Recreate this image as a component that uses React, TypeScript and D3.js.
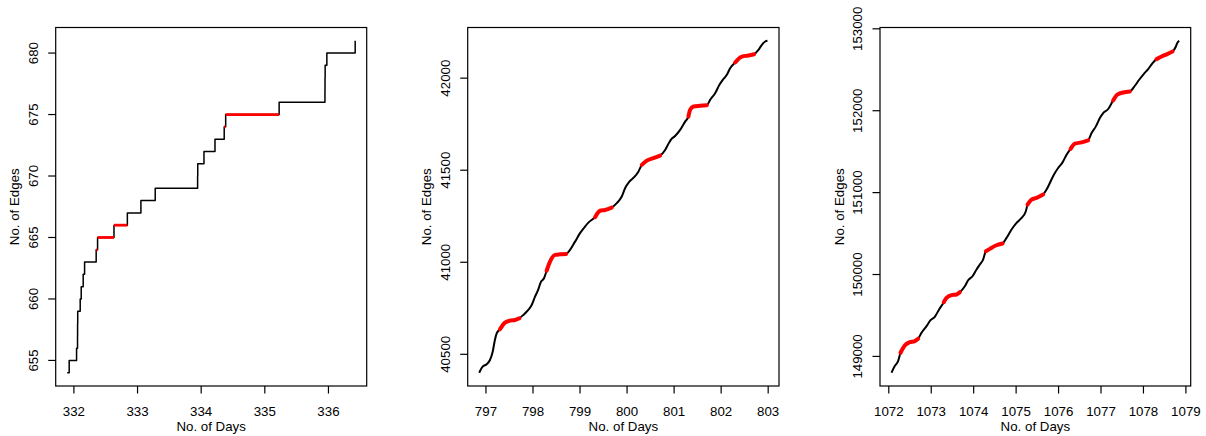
import React from "react";
import * as d3 from "d3";

// ---------- data ----------
const days1 = [331.895, 331.926, 332.042, 332.057, 332.058, 332.06, 332.099, 332.115, 332.146, 332.168, 332.35, 332.372, 332.63, 332.84, 333.053, 333.278, 333.944, 333.946, 334.044, 334.217, 334.362, 334.385, 335.225, 335.945, 335.946, 335.948, 335.975, 336.42];
const edges1 = [654, 655, 656, 657, 658, 659, 660, 661, 662, 663, 664, 665, 666, 667, 668, 669, 670, 671, 672, 673, 674, 675, 676, 677, 678, 679, 680, 681];
const red1 = [[332.34, 332.8], [334.35, 335.0]];
const xTicks1 = [332, 333, 334, 335, 336];
const yTicks1 = [655, 660, 665, 670, 675, 680];

const days2 = [796.857, 796.93, 797.015, 797.085, 797.143, 797.19, 797.228, 797.298, 797.404, 797.51, 797.617, 797.709, 797.794, 797.9, 797.972, 798.043, 798.113, 798.164, 798.234, 798.291, 798.362, 798.468, 798.574, 798.702, 798.787, 798.894, 799.0, 799.106, 799.177, 799.319, 799.426, 799.532, 799.674, 799.781, 799.887, 799.957, 800.049, 800.149, 800.24, 800.313, 800.419, 800.56, 800.702, 800.809, 800.879, 800.93, 801.021, 801.128, 801.234, 801.304, 801.34, 801.411, 801.553, 801.696, 801.766, 801.872, 801.964, 802.036, 802.121, 802.191, 802.298, 802.44, 802.581, 802.702, 802.794, 802.866, 802.936, 802.985];
const edges2 = [40400, 40433, 40446, 40469, 40514, 40578, 40614, 40636, 40672, 40683, 40686, 40696, 40714, 40741, 40768, 40813, 40853, 40891, 40913, 40954, 41003, 41040, 41043, 41045, 41067, 41112, 41158, 41194, 41215, 41245, 41280, 41284, 41297, 41321, 41357, 41402, 41438, 41462, 41492, 41529, 41552, 41565, 41579, 41610, 41643, 41665, 41686, 41719, 41764, 41791, 41828, 41846, 41850, 41853, 41882, 41918, 41964, 41991, 42018, 42054, 42085, 42117, 42123, 42130, 42154, 42181, 42199, 42203];
const red2 = [[797.29, 797.71], [798.28, 798.71], [799.31, 799.68], [800.3, 800.71], [801.3, 801.7], [802.29, 802.71]];
const xTicks2 = [797, 798, 799, 800, 801, 802, 803];
const yTicks2 = [40500, 41000, 41500, 42000];

const days3 = [1072.064, 1072.141, 1072.219, 1072.276, 1072.377, 1072.495, 1072.613, 1072.691, 1072.771, 1072.889, 1072.983, 1073.084, 1073.185, 1073.296, 1073.36, 1073.478, 1073.596, 1073.673, 1073.791, 1073.869, 1073.973, 1074.067, 1074.145, 1074.222, 1074.286, 1074.38, 1074.522, 1074.68, 1074.774, 1074.892, 1075.01, 1075.128, 1075.229, 1075.269, 1075.363, 1075.481, 1075.637, 1075.717, 1075.795, 1075.889, 1075.99, 1076.094, 1076.188, 1076.282, 1076.384, 1076.542, 1076.697, 1076.777, 1076.879, 1076.973, 1077.051, 1077.169, 1077.286, 1077.381, 1077.522, 1077.68, 1077.798, 1077.899, 1078.01, 1078.111, 1078.215, 1078.309, 1078.427, 1078.559, 1078.686, 1078.764, 1078.795, 1078.842];
const edges3 = [148801, 148882, 148943, 149045, 149134, 149174, 149187, 149216, 149289, 149370, 149443, 149484, 149573, 149662, 149716, 149748, 149756, 149784, 149857, 149930, 149979, 150061, 150122, 150183, 150284, 150313, 150354, 150378, 150448, 150549, 150630, 150691, 150772, 150854, 150915, 150935, 150976, 151037, 151118, 151219, 151301, 151369, 151463, 151533, 151598, 151613, 151638, 151728, 151809, 151911, 151972, 152021, 152126, 152195, 152223, 152235, 152305, 152378, 152451, 152508, 152582, 152630, 152662, 152691, 152723, 152784, 152826, 152854];
const red3 = [[1072.27, 1072.7], [1073.29, 1073.68], [1074.28, 1074.69], [1075.26, 1075.64], [1076.28, 1076.7], [1077.28, 1077.69], [1078.3, 1078.69]];
const xTicks3 = [1072, 1073, 1074, 1075, 1076, 1077, 1078, 1079];
const yTicks3 = [149000, 150000, 151000, 152000, 153000];

const xTitle = "No. of Days";
const yTitle = "No. of Edges";

const FONT = "'Liberation Sans', Arial, Helvetica, sans-serif";
const FS = 13.3;
const TOP = 27.5;
const BOTTOM = 386;

function rExpand(ext: [number, number]): [number, number] {
  const d = (ext[1] - ext[0]) * 0.04;
  return [ext[0] - d, ext[1] + d];
}

type PanelProps = {
  left: number;
  right: number;
  days: number[];
  edges: number[];
  red: number[][];
  xTicks: number[];
  yTicks: number[];
  step: boolean;
};

function Panel({ left, right, days, edges, red, xTicks, yTicks, step }: PanelProps) {
  const x = d3.scaleLinear().domain(rExpand(d3.extent(days) as [number, number])).range([left, right]);
  const y = d3.scaleLinear().domain(rExpand(d3.extent(edges) as [number, number])).range([BOTTOM, TOP]);
  const pts = days.map((d, i) => [d, edges[i]] as [number, number]);
  const line = d3
    .line<[number, number]>()
    .x((p) => x(p[0]))
    .y((p) => y(p[1]))
    .curve(step ? d3.curveStepAfter : d3.curveMonotoneX);
  const inRed = (t: number) => red.some(([a, b]) => t >= a && t <= b);

  const redEls: React.ReactNode[] = [];
  if (step) {
    pts.forEach((p, i) => {
      if (i < pts.length - 1 && inRed(p[0])) {
        redEls.push(
          <line key={"r" + i} x1={x(p[0])} x2={x(pts[i + 1][0])} y1={y(p[1])} y2={y(p[1])} stroke="#ff0000" strokeWidth={2.8} />
        );
      }
    });
  } else {
    red.forEach(([a, b], k) => {
      const sub = pts.filter((p) => p[0] >= a && p[0] <= b);
      redEls.push(<path key={"r" + k} d={line(sub) || ""} fill="none" stroke="#ff0000" strokeWidth={4} strokeLinecap="round" strokeLinejoin="round" />);
    });
  }
  const cx = (left + right) / 2;
  const cy = (TOP + BOTTOM) / 2;
  return (
    <g>
      <path d={line(pts) || ""} fill="none" stroke="#000" strokeWidth={step ? 1.5 : 2} strokeLinejoin="round" />
      {redEls}
      <rect x={left} y={TOP} width={right - left} height={BOTTOM - TOP} fill="none" stroke="#000" strokeWidth={1.2} />
      {xTicks.map((t) => (
        <g key={"x" + t}>
          <line x1={x(t)} x2={x(t)} y1={BOTTOM} y2={BOTTOM + 7.5} stroke="#000" strokeWidth={1.2} />
          <text x={x(t)} y={416} textAnchor="middle" fontFamily={FONT} fontSize={FS} fill="#000">
            {t}
          </text>
        </g>
      ))}
      {yTicks.map((t) => (
        <g key={"y" + t}>
          <line x1={left} x2={left - 7.5} y1={y(t)} y2={y(t)} stroke="#000" strokeWidth={1.2} />
          <text
            transform={`translate(${left - 18},${y(t)}) rotate(-90)`}
            textAnchor="middle"
            fontFamily={FONT}
            fontSize={FS}
            fill="#000"
          >
            {t}
          </text>
        </g>
      ))}
      <text x={cx} y={431} textAnchor="middle" fontFamily={FONT} fontSize={FS} fill="#000">
        {xTitle}
      </text>
      <text transform={`translate(${left - 36.5},${cy}) rotate(-90)`} textAnchor="middle" fontFamily={FONT} fontSize={FS} fill="#000">
        {yTitle}
      </text>
    </g>
  );
}

export default function App() {
  return (
    <svg width={1206} height={436} style={{ position: "absolute", left: 0, top: 0, background: "#fff" }}>
      <rect x={0} y={0} width={1206} height={436} fill="#fff" />
      <Panel left={55.7} right={366.7} days={days1} edges={edges1} red={red1} xTicks={xTicks1} yTicks={yTicks1} step={true} />
      <Panel left={467.7} right={779} days={days2} edges={edges2} red={red2} xTicks={xTicks2} yTicks={yTicks2} step={false} />
      <Panel left={880} right={1190.7} days={days3} edges={edges3} red={red3} xTicks={xTicks3} yTicks={yTicks3} step={false} />
    </svg>
  );
}
